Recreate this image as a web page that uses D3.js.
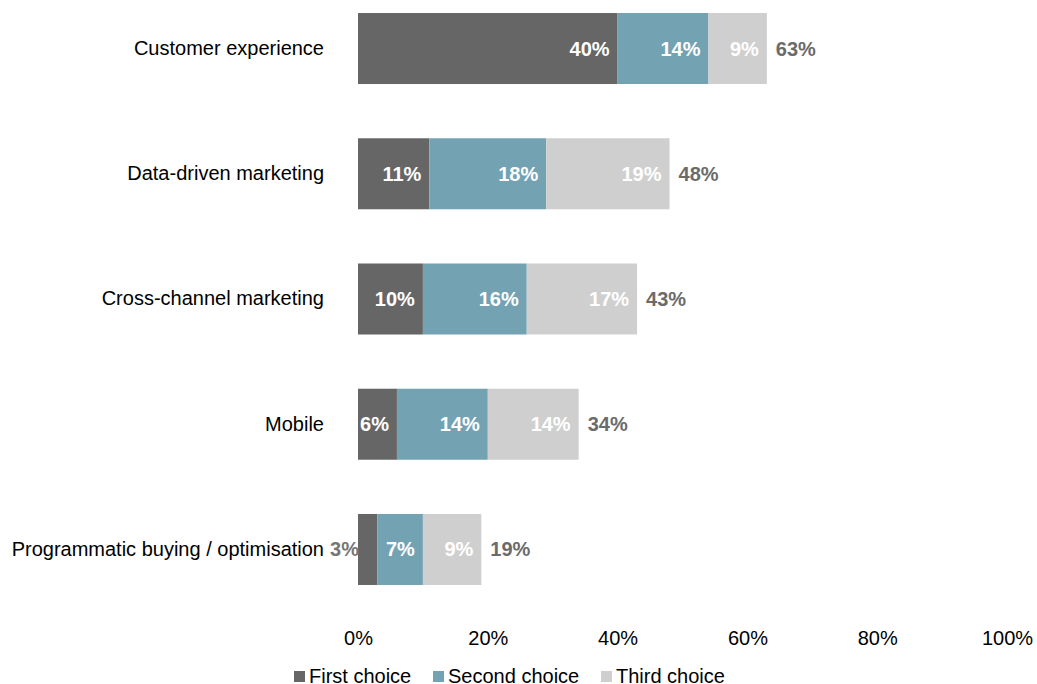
<!DOCTYPE html>
<html>
<head>
<meta charset="utf-8">
<script src="https://cdn.jsdelivr.net/npm/d3@7"></script>
<style>
  body { margin: 0; background: #fff; }
  text { font-family: "Liberation Sans", Arial, sans-serif; }
</style>
</head>
<body>
<div id="chart"></div>
<script>
// data
var categories = ["Customer experience", "Data-driven marketing", "Cross-channel marketing", "Mobile", "Programmatic buying / optimisation"];
var firstChoice = [40, 11, 10, 6, 3];
var secondChoice = [14, 18, 16, 14, 7];
var thirdChoice = [9, 19, 17, 14, 9];
var totals = [63, 48, 43, 34, 19];
var seriesNames = ["First choice", "Second choice", "Third choice"];
var xTicks = [0, 20, 40, 60, 80, 100];

var width = 1037, height = 684;

var svg = d3.select("#chart")
  .append("svg")
  .attr("width", width)
  .attr("height", height);

var color = d3.scaleOrdinal()
  .domain(seriesNames)
  .range(["#666666", "#73a2b3", "#cfcfcf"]);

var x = d3.scaleLinear()
  .domain([0, 100])
  .range([358, 1007]);

var y = d3.scaleBand()
  .domain(categories)
  .range([0, 598])
  .paddingInner(0.433)
  .paddingOuter(0.104);

// build rows for stacking
var rows = categories.map(function (c, i) {
  return { cat: c, "First choice": firstChoice[i], "Second choice": secondChoice[i], "Third choice": thirdChoice[i], total: totals[i] };
});
var stacked = d3.stack().keys(seriesNames)(rows);

// bars
var layers = svg.append("g")
  .selectAll("g")
  .data(stacked)
  .enter().append("g")
  .attr("fill", function (d) { return color(d.key); });

layers.selectAll("rect")
  .data(function (d) { return d; })
  .enter().append("rect")
  .attr("x", function (d) { return x(d[0]); })
  .attr("y", function (d) { return y(d.data.cat); })
  .attr("width", function (d) { return x(d[1]) - x(d[0]); })
  .attr("height", y.bandwidth());

// segment labels
layers.each(function (layer) {
  d3.select(this).selectAll("text")
    .data(layer)
    .enter().append("text")
    .attr("y", function (d) { return y(d.data.cat) + y.bandwidth() / 2; })
    .attr("dy", "0.35em")
    .attr("text-anchor", "end")
    .style("font-size", "20px")
    .style("font-weight", "bold")
    .text(function (d) { return (d[1] - d[0]) + "%"; })
    .each(function (d) {
      var w = this.getComputedTextLength();
      var segW = x(d[1]) - x(d[0]);
      var t = d3.select(this);
      if (segW < w + 10) {
        t.attr("x", x(d[0]) + 1).attr("fill", "#767676");
      } else {
        t.attr("x", x(d[1]) - 8).attr("fill", "#ffffff");
      }
    });
});

// total labels
svg.append("g")
  .selectAll("text")
  .data(rows)
  .enter().append("text")
  .attr("x", function (d) { return x(d.total) + 9; })
  .attr("y", function (d) { return y(d.cat) + y.bandwidth() / 2; })
  .attr("dy", "0.35em")
  .attr("fill", "#6b6b6b")
  .style("font-size", "20px")
  .style("font-weight", "bold")
  .text(function (d) { return d.total + "%"; });

// category axis
var yAxis = svg.append("g")
  .attr("transform", "translate(" + 358 + ",0)")
  .call(d3.axisLeft(y).tickSize(0).tickPadding(34));
yAxis.select(".domain").remove();
yAxis.selectAll("text")
  .style("font-size", "20px")
  .style("font-family", "'Liberation Sans', Arial, sans-serif")
  .attr("fill", "#000");

// x axis
var xAxis = svg.append("g")
  .attr("transform", "translate(0,625)")
  .call(d3.axisBottom(x).tickValues(xTicks).tickSize(0).tickPadding(6)
    .tickFormat(function (d) { return d + "%"; }));
xAxis.select(".domain").remove();
xAxis.selectAll("text")
  .style("font-size", "20px")
  .style("font-family", "'Liberation Sans', Arial, sans-serif")
  .attr("fill", "#000");

// legend
var legendX = [294, 433, 601];
var legend = svg.append("g")
  .selectAll("g")
  .data(seriesNames)
  .enter().append("g")
  .attr("transform", function (d, i) { return "translate(" + legendX[i] + ",676)"; });
legend.append("rect")
  .attr("x", 0).attr("y", -5)
  .attr("width", 11).attr("height", 11)
  .attr("fill", function (d) { return color(d); });
legend.append("text")
  .attr("x", 15)
  .attr("y", 0)
  .attr("dy", "0.35em")
  .style("font-size", "20px")
  .attr("fill", "#000")
  .text(function (d) { return d; });
</script>
</body>
</html>
